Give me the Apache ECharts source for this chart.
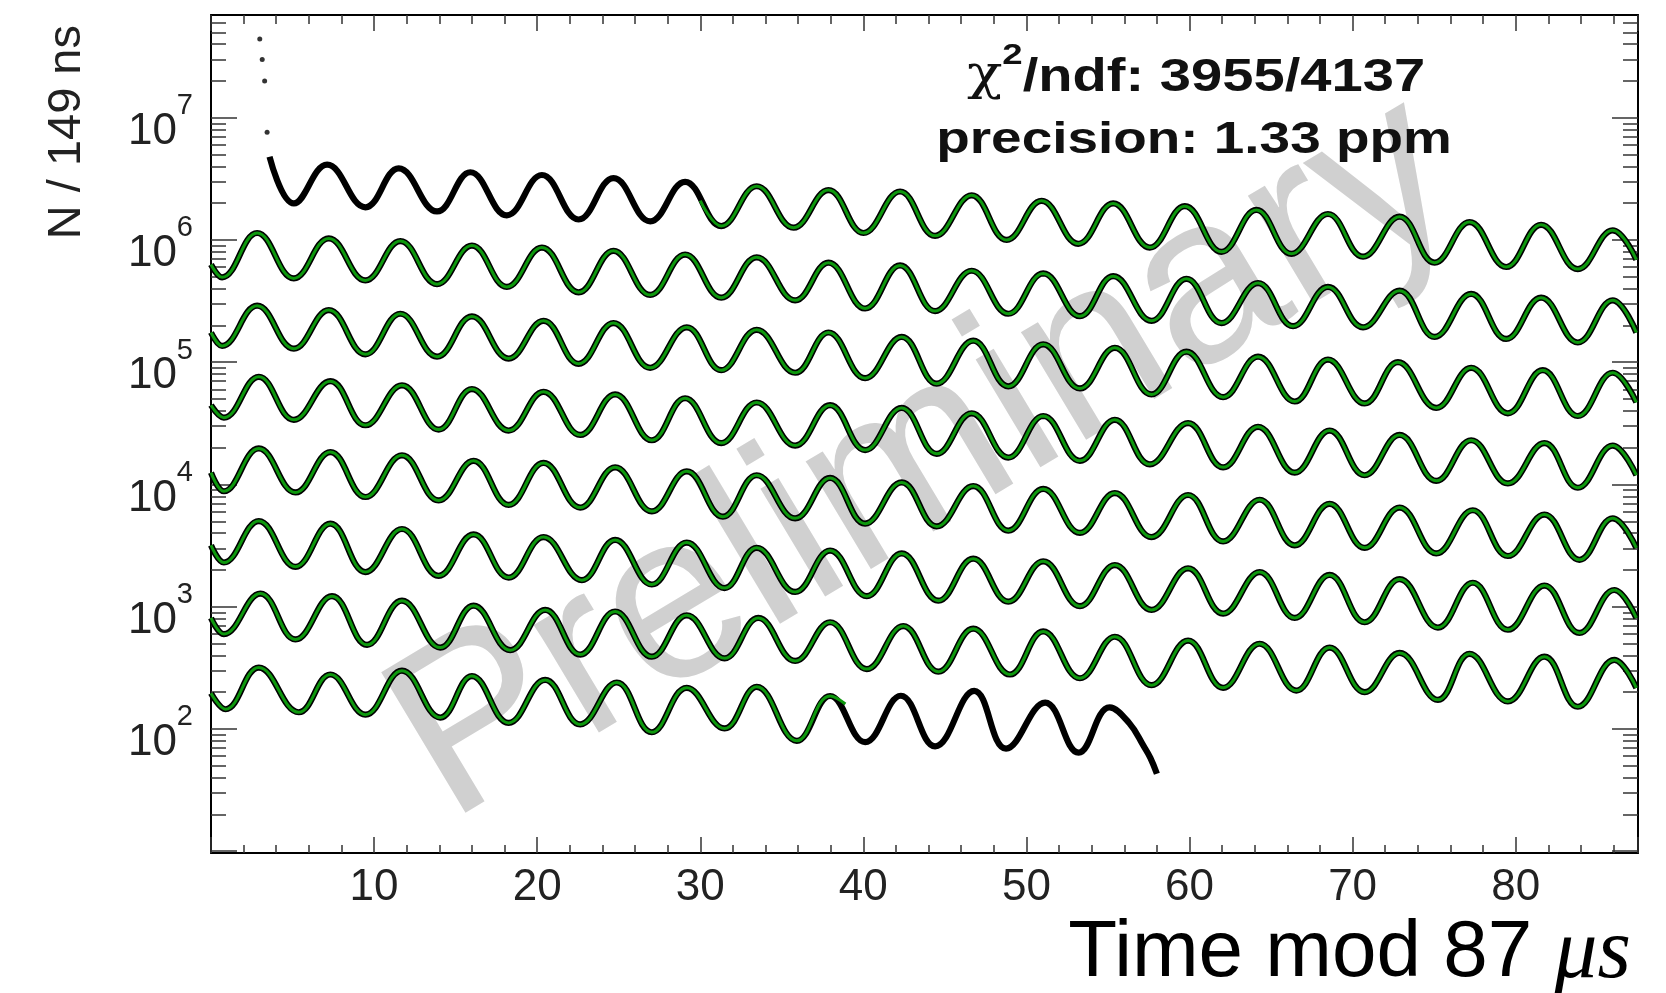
<!DOCTYPE html>
<html>
<head>
<meta charset="utf-8">
<script src="https://cdn.jsdelivr.net/npm/echarts@6/dist/echarts.min.js"></script>
<style>
  html, body { margin: 0; padding: 0; background: #fff; }
  #chart { width: 1666px; height: 993px; }
</style>
</head>
<body>
<div id="chart"></div>
<script>
// ---- data: [time mod 87 us, counts per 149 ns] ----
const burst1 = [[2.99, 4.4e7], [3.14, 3.0e7], [3.29, 2.0e7], [3.44, 7.6e6]];
const row1 = [[3.59,4.8e6],[5.08,1.99e6],[7.12,4.13e6],[9.47,1.85e6],[11.51,3.85e6],[13.86,1.71e6],[15.90,3.58e6],[18.14,1.59e6],[20.29,3.40e6],[22.54,1.47e6],[24.68,3.21e6],[26.93,1.42e6],[29.07,2.99e6],[31.29,1.30e6],[33.46,2.75e6],[35.72,1.26e6],[37.86,2.56e6],[40.01,1.14e6],[42.25,2.49e6],[44.40,1.08e6],[46.64,2.32e6],[48.79,1.00e6],[50.93,2.09e6],[53.18,9.3e5],[55.32,1.99e6],[57.57,8.67e5],[59.71,1.89e6],[61.96,7.99e5],[64.10,1.76e6],[66.25,7.7e5],[68.49,1.63e6],[70.64,7.3e5],[72.88,1.55e6],[75.03,6.52e5],[77.17,1.40e6],[79.42,6.01e5],[81.56,1.33e6],[83.81,5.78e5],[85.95,1.20e6],[87.4,6.9e5]];
const row2 = [[0,6.3e5],[0.68,4.95e5],[2.83,1.14e6],[5.08,4.85e5],[7.22,1.03e6],[9.47,4.67e5],[11.61,9.8e5],[13.86,4.35e5],[16.00,9.0e5],[18.14,4.13e5],[20.29,8.67e5],[22.54,3.73e5],[24.68,8.15e5],[26.93,3.55e5],[29.07,7.59e5],[31.29,3.37e5],[33.46,7.21e5],[35.82,3.21e5],[37.86,6.52e5],[40.11,2.75e5],[42.25,6.19e5],[44.40,2.62e5],[46.64,5.60e5],[48.89,2.49e5],[51.03,5.32e5],[53.28,2.38e5],[55.32,5.06e5],[57.67,2.18e5],[59.81,4.81e5],[61.96,2.09e5],[64.20,4.44e5],[66.35,1.97e5],[68.49,4.13e5],[70.64,1.93e5],[72.88,3.85e5],[75.03,1.61e5],[77.27,3.62e5],[79.42,1.55e5],[81.56,3.37e5],[83.81,1.45e5],[85.95,3.21e5],[87.4,1.75e5]];
const row3 = [[0,1.75e5],[0.68,1.36e5],[2.83,2.90e5],[5.08,1.29e5],[7.22,2.67e5],[9.47,1.16e5],[11.61,2.49e5],[13.86,1.11e5],[16.00,2.37e5],[18.25,1.07e5],[20.39,2.18e5],[22.54,9.7e4],[24.68,2.09e5],[26.93,9.0e4],[29.17,1.93e5],[31.29,8.6e4],[33.46,1.84e5],[35.82,8.2e4],[37.86,1.75e5],[40.11,7.4e4],[42.35,1.61e5],[44.50,6.67e4],[46.74,1.50e5],[48.89,6.34e4],[51.03,1.40e5],[53.28,6.1e4],[55.42,1.31e5],[57.67,5.45e4],[59.81,1.22e5],[62.06,5.18e4],[64.20,1.11e5],[66.45,4.77e4],[68.49,1.05e5],[70.74,4.6e4],[72.78,1.00e5],[75.13,4.23e4],[77.27,9.0e4],[79.52,3.82e4],[81.66,8.6e4],[83.81,3.63e4],[85.95,8.2e4],[87.4,4.7e4]];
const row4 = [[0,4.45e4],[0.79,3.52e4],[2.93,7.6e4],[5.08,3.38e4],[7.32,7.0e4],[9.47,3.05e4],[11.71,6.47e4],[13.96,2.81e4],[16.00,6.03e4],[18.25,2.76e4],[20.39,5.73e4],[22.64,2.54e4],[24.78,5.45e4],[27.03,2.30e4],[29.07,5.07e4],[31.29,2.18e4],[33.46,4.68e4],[35.82,2.08e4],[37.96,4.45e4],[40.11,1.91e4],[42.35,4.23e4],[44.50,1.78e4],[46.64,3.82e4],[48.89,1.66e4],[51.03,3.63e4],[53.28,1.56e4],[55.42,3.38e4],[57.57,1.46e4],[59.91,3.18e4],[62.06,1.38e4],[64.20,2.96e4],[66.45,1.25e4],[68.59,2.76e4],[70.74,1.19e4],[72.88,2.54e4],[75.13,1.07e4],[77.27,2.30e4],[79.52,1.02e4],[81.76,2.18e4],[83.81,9.4e3],[85.95,2.08e4],[87.4,1.19e4]];
const row5 = [[0,1.25e4],[0.79,8.8e3],[2.93,1.97e4],[5.18,8.6e3],[7.32,1.84e4],[9.47,7.9e3],[11.71,1.73e4],[13.96,7.4e3],[16.10,1.56e4],[18.25,6.8e3],[20.39,1.50e4],[22.64,6.47e3],[24.78,1.38e4],[27.03,6.03e3],[29.17,1.28e4],[31.39,5.45e3],[33.46,1.19e4],[35.82,5.28e3],[37.96,1.13e4],[40.11,4.78e3],[42.35,1.04e4],[44.50,4.54e3],[46.74,9.7e3],[48.89,4.19e3],[51.03,9.2e3],[53.28,4.02e3],[55.42,8.5e3],[57.67,3.71e3],[59.91,8.2e3],[62.06,3.42e3],[64.30,7.5e3],[66.45,3.18e3],[68.59,6.95e3],[70.74,3.03e3],[72.88,6.47e3],[75.13,2.73e3],[77.37,6.15e3],[79.52,2.60e3],[81.76,5.67e3],[83.91,2.42e3],[85.95,5.28e3],[87.4,3.03e3]];
const row6 = [[0,3.18e3],[0.79,2.30e3],[2.93,5.02e3],[5.18,2.12e3],[7.32,4.78e3],[9.47,1.92e3],[11.71,4.32e3],[13.96,1.79e3],[16.10,3.90e3],[18.25,1.73e3],[20.39,3.71e3],[22.74,1.65e3],[24.78,3.52e3],[27.03,1.52e3],[29.17,3.35e3],[31.49,1.42e3],[33.46,3.03e3],[35.82,1.32e3],[37.96,2.88e3],[40.21,1.22e3],[42.35,2.73e3],[44.60,1.12e3],[46.74,2.47e3],[48.89,1.10e3],[51.03,2.35e3],[53.28,1.01e3],[55.42,2.19e3],[57.67,942],[59.91,2.06e3],[62.06,879],[64.30,1.92e3],[66.45,809],[68.59,1.82e3],[70.74,746],[72.88,1.68e3],[75.23,675],[77.37,1.57e3],[79.52,648],[81.76,1.49e3],[83.91,610],[86.05,1.37e3],[87.4,809]];
const row7 = [[0,809],[0.79,597],[3.03,1280],[5.18,540],[7.42,1220],[9.57,488],[11.71,1120],[14.06,463],[16.10,1020],[18.35,441],[20.49,942],[22.64,406],[24.78,914],[27.03,390],[29.17,851],[31.49,378],[33.56,809],[35.82,360],[37.96,746],[40.21,309],[42.45,695],[44.60,294],[46.74,661],[48.99,279],[51.03,628],[53.28,260],[55.42,568],[57.67,228],[59.91,528],[62.06,217],[64.30,498],[66.55,206],[68.59,463],[70.74,200],[72.88,419],[75.23,173],[77.17,412],[79.52,168],[81.76,390],[83.81,152],[86.05,367],[87.4,217]];
const row8 = [[0,196],[0.89,145],[2.93,318],[5.38,137],[7.32,279],[9.47,131],[11.71,300],[14.06,124],[16.00,271],[18.25,112],[20.49,252],[22.64,109],[24.88,240],[27.03,94],[29.17,217],[31.49,101],[33.46,221],[35.92,80],[37.96,186],[40.11,78],[42.30,187],[44.40,72],[46.80,205],[48.75,69],[51.15,164],[53.20,64],[55.10,150],[56.30,112],[57.20,72],[57.60,58],[58.00,43]];
const dataRows = [row1, row2, row3, row4, row5, row6, row7, row8];

// fit window: starts in the first row, ends in the last row
const fitStart = [30.0, 2.1e6];
const fitEnd = [38.9, 160];

// tick labels
const xTickLabels = [10, 20, 30, 40, 50, 60, 70, 80];
const yTickExponents = [2, 3, 4, 5, 6, 7];
const yMajorTicks = [10, 100, 1000, 1e4, 1e5, 1e6, 1e7];

const FONT = "'Liberation Sans', Arial, Helvetica, sans-serif";
const GREEN = '#0e980e';

// fit curves built from the data rows over the fit window
const fitRows = dataRows.map((r, i) => {
  if (i === 0) return [fitStart].concat(r.filter(p => p[0] > fitStart[0]));
  if (i === dataRows.length - 1) return r.filter(p => p[0] < fitEnd[0]).concat([fitEnd]);
  return r;
});

const series = [];
dataRows.forEach((r, i) => {
  series.push({
    name: 'data' + (i + 1), type: 'line', data: r, smooth: 0.42,
    showSymbol: false, symbol: 'none', xAxisIndex: 0, yAxisIndex: 0,
    lineStyle: { color: '#000', width: 6.2 }, z: 3, silent: true
  });
});
fitRows.forEach((r, i) => {
  series.push({
    name: 'fit' + (i + 1), type: 'line', data: r, smooth: 0.42,
    showSymbol: false, symbol: 'none', xAxisIndex: 0, yAxisIndex: 0,
    lineStyle: { color: GREEN, width: 3 }, z: 4, silent: true
  });
});
series.push({
  name: 'burst', type: 'scatter', data: burst1, symbolSize: 5,
  itemStyle: { color: '#000' }, xAxisIndex: 0, yAxisIndex: 0, z: 3, silent: true
});

const axisLineStyle = { show: true, onZero: false, lineStyle: { color: '#000', width: 2 } };

function yLabel(v) {
  const e = Math.log10(v);
  const r = Math.round(e);
  if (Math.abs(e - r) > 1e-6 || yTickExponents.indexOf(r) < 0) return '';
  return '{b|10}{s|' + r + '}';
}

const chart = echarts.init(document.getElementById('chart'), null, { renderer: 'canvas' });
chart.setOption({
  animation: false,
  backgroundColor: '#fff',
  grid: { left: 211, top: 15, width: 1427, height: 838, containLabel: false, outerBoundsMode: 'none' },
  xAxis: [{
    type: 'value', position: 'bottom', min: 0, max: 87.5, interval: 10,
    axisLine: axisLineStyle,
    axisTick: { show: true, inside: true, length: 16, lineStyle: { color: '#333', width: 1.5 } },
    minorTick: { show: true, splitNumber: 5, length: 8, lineStyle: { color: '#333', width: 1.5 } },
    splitLine: { show: false }, minorSplitLine: { show: false },
    axisLabel: {
      formatter: v => (xTickLabels.indexOf(v) >= 0 ? String(v) : ''),
      fontSize: 44, color: '#222', fontFamily: FONT, margin: 13,
      showMinLabel: false, showMaxLabel: false
    }
  }, {
    type: 'value', position: 'top', min: 0, max: 87.5, interval: 10,
    axisLine: axisLineStyle,
    axisTick: { show: true, inside: true, length: 16, lineStyle: { color: '#333', width: 1.5 } },
    minorTick: { show: true, splitNumber: 5, length: 9, lineStyle: { color: '#333', width: 1.5 } },
    splitLine: { show: false }, axisLabel: { show: false }
  }],
  yAxis: [{
    type: 'log', logBase: 10, position: 'left', min: 9.67, max: 6.92e7,
    axisLine: axisLineStyle,
    axisTick: { show: true, inside: true, length: 26, customValues: yMajorTicks, lineStyle: { color: '#333', width: 1.5 } },
    minorTick: { show: true, splitNumber: 9, length: 15, lineStyle: { color: '#333', width: 1.5 } },
    splitLine: { show: false }, minorSplitLine: { show: false },
    axisLabel: {
      formatter: yLabel, margin: 18, align: 'right', padding: [10, 0, 0, 0],
      rich: {
        b: { fontSize: 44, fontFamily: FONT, color: '#222', lineHeight: 62, verticalAlign: 'bottom' },
        s: { fontSize: 29, fontFamily: FONT, color: '#222', lineHeight: 29, verticalAlign: 'top' }
      }
    },
    name: 'N / 149 ns', nameLocation: 'end', nameRotate: 90, nameGap: -10,
    nameTextStyle: {
      fontSize: 47, fontFamily: FONT, color: '#222',
      align: 'right', verticalAlign: 'bottom', padding: [0, 0, 120, 0]
    }
  }, {
    type: 'log', logBase: 10, position: 'right', min: 9.67, max: 6.92e7,
    axisLine: axisLineStyle,
    axisTick: { show: true, inside: true, length: 26, customValues: yMajorTicks, lineStyle: { color: '#333', width: 1.5 } },
    minorTick: { show: true, splitNumber: 9, length: 15, lineStyle: { color: '#333', width: 1.5 } },
    splitLine: { show: false }, axisLabel: { show: false }
  }],
  graphic: [
    {
      type: 'text', x: 925, y: 460, rotation: 31 * Math.PI / 180, z: 0, silent: true,
      style: {
        text: 'Preliminary', fontSize: 238, fontFamily: FONT, fill: '#d0d0d0',
        align: 'center', verticalAlign: 'middle'
      }
    },
    {
      type: 'text', x: 1196, y: 71, scaleX: 1.22, z: 10, silent: true,
      style: {
        text: '{c|χ}{s|2}{b|/ndf: 3955/4137}', align: 'center', verticalAlign: 'middle',
        rich: {
          c: { fontSize: 48, fontFamily: "'DejaVu Serif', serif", fill: '#111', lineHeight: 60, verticalAlign: 'bottom' },
          s: { fontSize: 30, fontFamily: FONT, fontWeight: 'bold', fill: '#111', lineHeight: 30, verticalAlign: 'top' },
          b: { fontSize: 46, fontFamily: FONT, fontWeight: 'bold', fill: '#111', lineHeight: 60, verticalAlign: 'bottom' }
        }
      }
    },
    {
      type: 'text', x: 1194, y: 141, scaleX: 1.22, z: 10, silent: true,
      style: {
        text: 'precision: 1.33 ppm', fontSize: 45, fontFamily: FONT, fontWeight: 'bold',
        fill: '#111', align: 'center', verticalAlign: 'middle'
      }
    },
    {
      // x-axis title, right-aligned under the axis end as in the original
      type: 'text', x: 1631, y: 954, z: 10, silent: true,
      style: {
        text: '{t|Time mod 87 }{m|μs}', align: 'right', verticalAlign: 'middle',
        rich: {
          t: { fontSize: 80, fontFamily: FONT, fill: '#000' },
          m: { fontSize: 86, fontFamily: "'Liberation Serif', 'Times New Roman', serif", fontStyle: 'italic', fill: '#000' }
        }
      }
    }
  ],
  series: series
});
</script>
</body>
</html>
